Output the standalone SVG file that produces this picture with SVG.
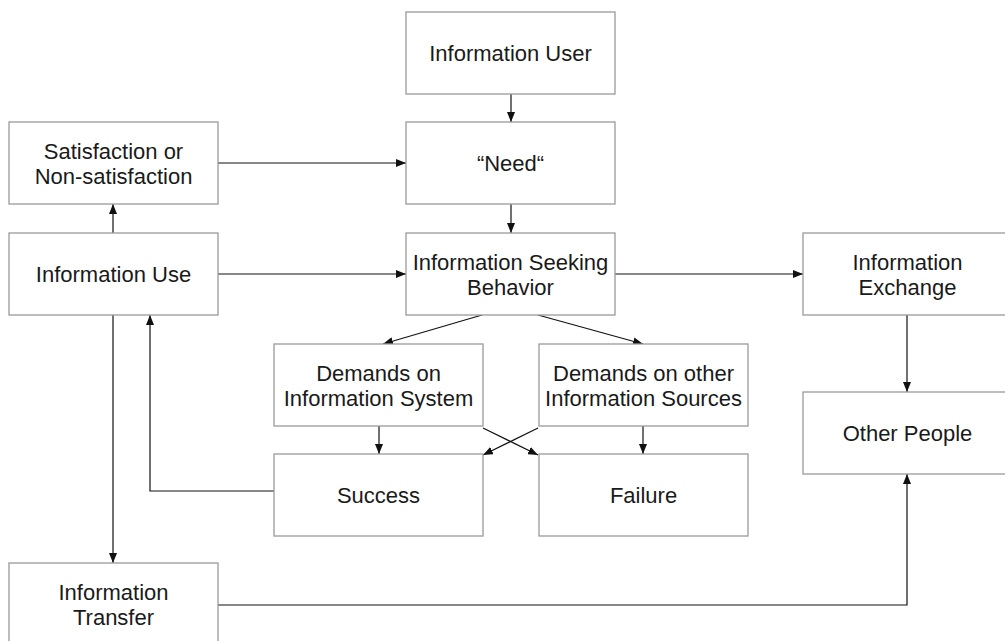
<svg xmlns="http://www.w3.org/2000/svg" width="1005" height="641" viewBox="0 0 1005 641">
<style>
.box{fill:#fff;stroke:#9a9a9a;stroke-width:1.3}
.t{font-family:"Liberation Sans",Arial,sans-serif;font-size:22px;fill:#1a1a1a;text-anchor:middle}
.c{fill:none;stroke:#111;stroke-width:1.2}
</style>
<defs>
<marker id="a" markerWidth="10" markerHeight="8" refX="10" refY="4" orient="auto" markerUnits="userSpaceOnUse">
<path d="M0,0 L10,4 L0,8 z" fill="#111"/>
</marker>
</defs>
<rect width="1005" height="641" fill="#fff"/>
<g id="connectors">
<path class="c" marker-end="url(#a)" d="M511,94 L511,122"/>
<path class="c" marker-end="url(#a)" d="M511,204 L511,233"/>
<path class="c" marker-end="url(#a)" d="M218,163 L406,163"/>
<path class="c" marker-end="url(#a)" d="M218,274 L406,274"/>
<path class="c" marker-end="url(#a)" d="M615,274 L803,274"/>
<path class="c" marker-end="url(#a)" d="M113,233 L113,204"/>
<path class="c" marker-end="url(#a)" d="M113,315 L113,563"/>
<path class="c" marker-end="url(#a)" d="M274,491 L150,491 L150,315"/>
<path class="c" marker-end="url(#a)" d="M482,315 L383,344"/>
<path class="c" marker-end="url(#a)" d="M538,315 L643,344"/>
<path class="c" marker-end="url(#a)" d="M379,426 L379,454"/>
<path class="c" marker-end="url(#a)" d="M643,426 L643,454"/>
<path class="c" marker-end="url(#a)" d="M483,428 L538,455"/>
<path class="c" marker-end="url(#a)" d="M538,428 L483,455"/>
<path class="c" marker-end="url(#a)" d="M907,315 L907,392"/>
<path class="c" marker-end="url(#a)" d="M218,605 L907,605 L907,474"/>
</g>
<g id="user"><rect class="box" x="406" y="12" width="209" height="82"/><text class="t" x="510.5" y="61">Information User</text></g>
<g id="need"><rect class="box" x="406" y="122" width="209" height="82"/><text class="t" x="510.5" y="171">“Need“</text></g>
<g id="seeking"><rect class="box" x="406" y="233" width="209" height="82"/><text class="t" x="510.5" y="270">Information Seeking</text><text class="t" x="510.5" y="295">Behavior</text></g>
<g id="satisfaction"><rect class="box" x="9" y="122" width="209" height="82"/><text class="t" x="113.5" y="159">Satisfaction or</text><text class="t" x="113.5" y="184">Non-satisfaction</text></g>
<g id="use"><rect class="box" x="9" y="233" width="209" height="82"/><text class="t" x="113.5" y="282">Information Use</text></g>
<g id="exchange"><rect class="box" x="803" y="233" width="209" height="82"/><text class="t" x="907.5" y="270">Information</text><text class="t" x="907.5" y="295">Exchange</text></g>
<g id="other-people"><rect class="box" x="803" y="392" width="209" height="82"/><text class="t" x="907.5" y="441">Other People</text></g>
<g id="demands-system"><rect class="box" x="274" y="344" width="209" height="82"/><text class="t" x="378.5" y="381">Demands on</text><text class="t" x="378.5" y="406">Information System</text></g>
<g id="demands-other"><rect class="box" x="539" y="344" width="209" height="82"/><text class="t" x="643.5" y="381">Demands on other</text><text class="t" x="643.5" y="406">Information Sources</text></g>
<g id="success"><rect class="box" x="274" y="454" width="209" height="82"/><text class="t" x="378.5" y="503">Success</text></g>
<g id="failure"><rect class="box" x="539" y="454" width="209" height="82"/><text class="t" x="643.5" y="503">Failure</text></g>
<g id="transfer"><rect class="box" x="9" y="563" width="209" height="82"/><text class="t" x="113.5" y="600">Information</text><text class="t" x="113.5" y="625">Transfer</text></g>
</svg>
